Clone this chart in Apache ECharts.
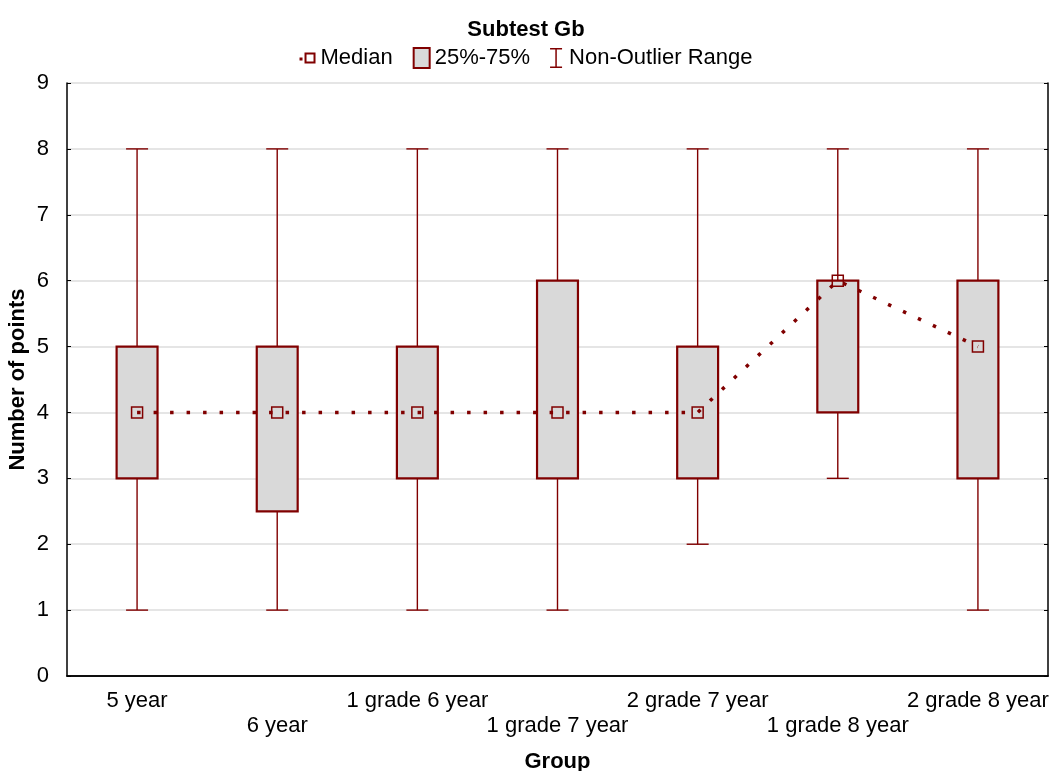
<!DOCTYPE html>
<html>
<head>
<meta charset="utf-8">
<script src="https://cdn.jsdelivr.net/npm/echarts@6/dist/echarts.min.js"></script>
<style>html,body{margin:0;padding:0;background:#fff}#c{width:1052px;height:771px}</style>
</head>
<body>
<div id="c"></div>
<script>
const categories = ['5 year', '6 year', '1 grade 6 year', '1 grade 7 year', '2 grade 7 year', '1 grade 8 year', '2 grade 8 year'];
const minVals = [1, 1, 1, 1, 2, 3, 1];
const q1Vals = [3, 2.5, 3, 3, 3, 4, 3];
const medVals = [4, 4, 4, 4, 4, 6, 5];
const q3Vals = [5, 5, 5, 6, 5, 6, 6];
const maxVals = [8, 8, 8, 8, 8, 8, 8];
const yTicks = [0, 1, 2, 3, 4, 5, 6, 7, 8, 9];

const RED = '#800000';
const FONT = 'Liberation Sans, Arial, sans-serif';
const boxData = categories.map((c, i) => [i, minVals[i], q1Vals[i], q3Vals[i], maxVals[i]]);

const chart = echarts.init(document.getElementById('c'));
chart.setOption({
  animation: false,
  textStyle: { fontFamily: FONT },
  title: {
    text: 'Subtest Gb', left: 'center', top: 14,
    textStyle: { fontFamily: FONT, fontSize: 22, fontWeight: 'bold', color: '#000' }
  },
  legend: {
    top: 42, left: 'center', itemWidth: 16, itemHeight: 20, itemGap: 20, itemTextGap: 11,
    textStyle: { fontFamily: FONT, fontSize: 22, color: '#000' },
    data: [
      { name: 'Median', icon: 'path://M0,5h3v3h-3z M5,0h11v11h-11z M7,2v7h7v-7z', itemStyle: { color: RED, borderWidth: 0 } },
      { name: '25%-75%', icon: 'rect', itemStyle: { color: '#d9d9d9', borderColor: RED, borderWidth: 2 } },
      { name: 'Non-Outlier Range', icon: 'path://M0,0h12v1.5h-12z M5.25,0h1.5v20h-1.5z M0,18.5h12v1.5h-12z', itemStyle: { color: RED, borderWidth: 0 } }
    ]
  },
  grid: { left: 67, right: 4, top: 83, bottom: 95, outerBoundsMode: 'none', containLabel: false },
  xAxis: [
    {
      type: 'category', data: categories, boundaryGap: true,
      name: 'Group', nameLocation: 'middle', nameGap: 75,
      nameTextStyle: { fontFamily: FONT, fontSize: 22, fontWeight: 'bold', color: '#000' },
      axisLine: { lineStyle: { color: '#000', width: 1.5 } },
      axisTick: { alignWithLabel: true, inside: true, length: 4, lineStyle: { color: '#000' } },
      axisLabel: {
        interval: 0, margin: 12, fontSize: 22, lineHeight: 25, color: '#000', fontFamily: FONT,
        formatter: (v, i) => (i % 2 ? '\n' + v : v)
      },
      splitLine: { show: false }
    },
    {
      type: 'category', data: categories, position: 'top', boundaryGap: true,
      axisLine: { lineStyle: { color: '#000', width: 1.5 } },
      axisTick: { alignWithLabel: true, inside: true, length: 4, lineStyle: { color: '#000' } },
      axisLabel: { show: false }, splitLine: { show: false }
    }
  ],
  yAxis: [
    {
      type: 'value', min: 0, max: 9, interval: 1,
      name: 'Number of points', nameLocation: 'middle', nameGap: 38, nameRotate: 90, nameMoveOverlap: false,
      nameTextStyle: { fontFamily: FONT, fontSize: 22, fontWeight: 'bold', color: '#000' },
      axisLine: { show: true, lineStyle: { color: '#000', width: 1.5 } },
      axisTick: { show: true, inside: true, length: 4, lineStyle: { color: '#000' } },
      axisLabel: { margin: 18, fontSize: 22, color: '#000', fontFamily: FONT, formatter: v => (yTicks.includes(v) ? String(v) : '') },
      splitLine: { show: true, lineStyle: { color: '#dcdcdc', width: 1.5 } }
    },
    {
      type: 'value', min: 0, max: 9, interval: 1, position: 'right',
      axisLine: { show: true, lineStyle: { color: '#000', width: 1.5 } },
      axisTick: { show: true, inside: true, length: 4, lineStyle: { color: '#000' } },
      axisLabel: { show: false }, splitLine: { show: false }
    }
  ],
  series: [
    {
      name: 'Non-Outlier Range', type: 'custom', data: boxData, z: 2,
      itemStyle: { color: RED },
      renderItem: (params, api) => {
        const x = api.value(0);
        const pMin = api.coord([x, api.value(1)]);
        const pQ1 = api.coord([x, api.value(2)]);
        const pQ3 = api.coord([x, api.value(3)]);
        const pMax = api.coord([x, api.value(4)]);
        const cw = api.size([1, 0])[0] * 0.157 / 2;
        const st = { stroke: RED, lineWidth: 1.4, fill: null };
        return {
          type: 'group', children: [
            { type: 'line', shape: { x1: pMax[0], y1: pMax[1], x2: pQ3[0], y2: pQ3[1] }, style: st },
            { type: 'line', shape: { x1: pMin[0], y1: pMin[1], x2: pQ1[0], y2: pQ1[1] }, style: st },
            { type: 'line', shape: { x1: pMax[0] - cw, y1: pMax[1], x2: pMax[0] + cw, y2: pMax[1] }, style: st },
            { type: 'line', shape: { x1: pMin[0] - cw, y1: pMin[1], x2: pMin[0] + cw, y2: pMin[1] }, style: st }
          ]
        };
      }
    },
    {
      name: '25%-75%', type: 'custom', data: boxData, z: 3,
      itemStyle: { color: '#d9d9d9', borderColor: RED },
      renderItem: (params, api) => {
        const x = api.value(0);
        const pQ1 = api.coord([x, api.value(2)]);
        const pQ3 = api.coord([x, api.value(3)]);
        const w = api.size([1, 0])[0] * 0.292;
        return {
          type: 'rect',
          shape: { x: pQ1[0] - w / 2, y: pQ3[1], width: w, height: pQ1[1] - pQ3[1] },
          style: { fill: '#d9d9d9', stroke: RED, lineWidth: 2.2 }
        };
      }
    },
    {
      name: 'Median', type: 'line', data: medVals, z: 4,
      symbol: 'rect', symbolSize: 11,
      itemStyle: { color: 'rgba(0,0,0,0)', borderColor: RED, borderWidth: 1.5 },
      lineStyle: { color: RED, width: 3.5, type: [3.5, 13] }
    }
  ]
});
</script>
</body>
</html>
